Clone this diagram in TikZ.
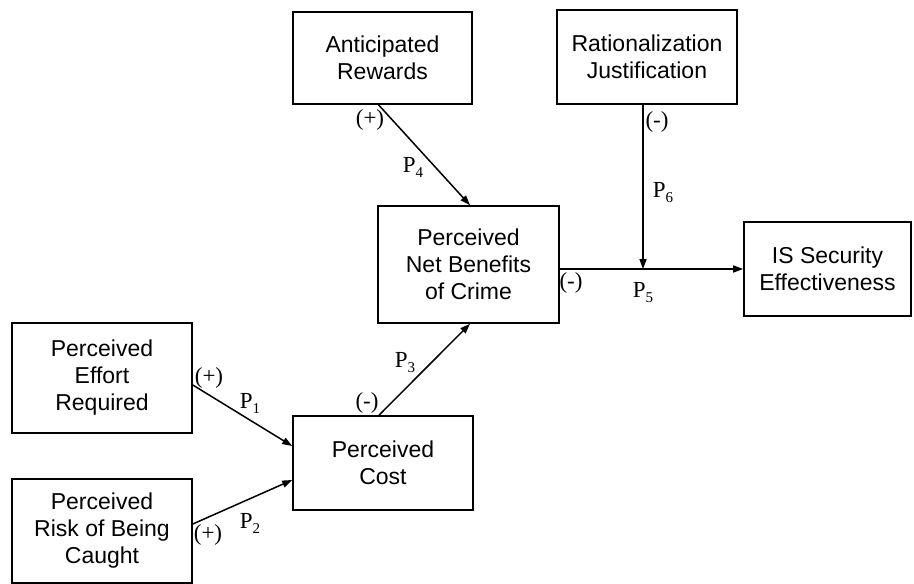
\documentclass[tikz,border=0pt]{standalone}
\usepackage{fontspec}
\setmainfont{Liberation Serif}
\setsansfont{Liberation Sans}
\usetikzlibrary{arrows.meta}
\newcommand{\Psub}[1]{P\raisebox{-5pt}{\fontsize{15}{15}\selectfont #1}}
\tikzset{
  box/.style={draw, line width=1.6pt, align=center, inner sep=0pt,
    font=\sffamily\fontsize{23}{27}\selectfont},
  conn/.style={line width=1.5pt, -{Triangle[length=10pt,width=7pt]}},
  lbl/.style={font=\rmfamily\fontsize{23}{25}\selectfont, inner sep=0pt}
}
\begin{document}
\begin{tikzpicture}[x=1pt,y=-1pt]
\useasboundingbox (0,0) rectangle (914,584);
\node[box, minimum width=179pt, minimum height=92pt] (AR) at (382.5,58) {Anticipated\\Rewards};
\node[box, minimum width=180pt, minimum height=94pt] (RJ) at (647,57) {Rationalization\\Justification};
\node[box, minimum width=181pt, minimum height=117pt] (NB) at (468.5,264.5) {Perceived\\Net Benefits\\of Crime};
\node[box, minimum width=167pt, minimum height=94pt] (IS) at (827.5,269) {IS Security\\Effectiveness};
\node[box, minimum width=180pt, minimum height=110pt] (PE) at (102,378) {Perceived\\Effort\\Required};
\node[box, minimum width=180pt, minimum height=104pt] (PR) at (102,531) {Perceived\\Risk of Being\\Caught};
\node[box, minimum width=180pt, minimum height=94pt] (PC) at (383,463) {Perceived\\Cost};

\coordinate (J) at ([xshift=-4pt]RJ.south |- IS.west);
\draw[conn] ([xshift=-4pt]AR.south) -- ([xshift=1.5pt]NB.north);
\draw[conn] ([xshift=-4pt]RJ.south) -- (J);
\draw[conn] (NB.east |- IS.west) -- (IS.west);
\draw[conn] ([yshift=-7pt]PE.east) -- ([yshift=17pt]PC.west);
\draw[conn] ([yshift=7pt]PR.east) -- ([yshift=-17pt]PC.west);
\draw[conn] ([xshift=-4pt]PC.north) -- ([xshift=1.5pt]NB.south);

\node[lbl] (l1) at (370,120) {(+)};
\node[lbl] (l2) at (413,167) {\Psub{4}};
\node[lbl] (l3) at (657,122) {(-)};
\node[lbl] (l4) at (663,193) {\Psub{6}};
\node[lbl] (l5) at (571,283) {(-)};
\node[lbl] (l6) at (643,293) {\Psub{5}};
\node[lbl] (l7) at (209,378) {(+)};
\node[lbl] (l8) at (250,403) {\Psub{1}};
\node[lbl] (l9) at (367,403) {(-)};
\node[lbl] (l10) at (405,363) {\Psub{3}};
\node[lbl] (l11) at (208,535) {(+)};
\node[lbl] (l12) at (250,523) {\Psub{2}};
\end{tikzpicture}
\end{document}
